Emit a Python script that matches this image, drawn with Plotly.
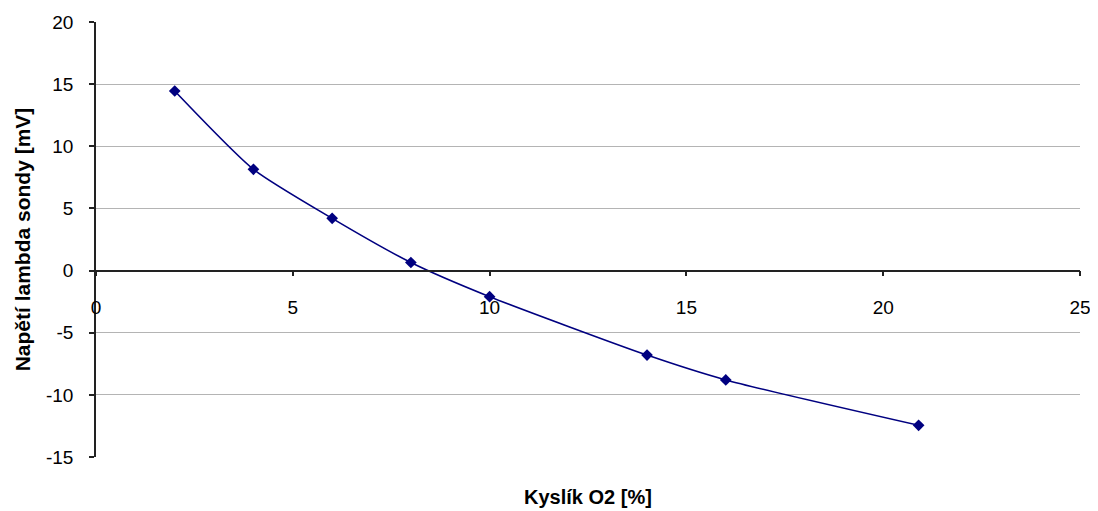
import plotly.graph_objects as go

oxygen_pct = [2, 4, 6, 8, 10, 14, 16, 20.9]
voltage_mv = [14.45, 8.15, 4.2, 0.65, -2.1, -6.8, -8.8, -12.45]

x_ticks = [0, 5, 10, 15, 20, 25]
y_ticks = [-15, -10, -5, 0, 5, 10, 15, 20]
y_tick_labels = ["-15", "-10", "-5", "0", "5", "10", "15", "20"]

x_title = "Kyslík O2 [%]"
y_title = "Napětí lambda sondy [mV]"

FONT = "Liberation Sans, Arial, sans-serif"
NAVY = "#000080"

fig = go.Figure()
fig.add_trace(go.Scatter(
    x=oxygen_pct, y=voltage_mv,
    mode="lines+markers",
    line=dict(color=NAVY, width=1.6, shape="spline", smoothing=0.6),
    marker=dict(symbol="diamond", size=9, color=NAVY),
    showlegend=False,
    hoverinfo="x+y",
))

fig.update_layout(
    width=1098, height=511,
    margin=dict(l=88, r=26, t=14, b=62),
    paper_bgcolor="white", plot_bgcolor="white",
    font=dict(family=FONT, size=19, color="black"),
    xaxis=dict(
        range=[0, 25], tickvals=x_ticks,
        anchor="free", position=15 / 35,
        showline=True, linecolor="#222222", linewidth=1.5,
        ticks="outside", ticklen=5, tickcolor="#222222", tickwidth=1.5,
        ticklabelstandoff=15,
        showgrid=False, zeroline=False, automargin=False,
        tickfont=dict(family=FONT, size=19, color="black"),
    ),
    yaxis=dict(
        range=[-15, 20], tickvals=y_ticks, ticktext=y_tick_labels,
        showline=True, linecolor="#222222", linewidth=1.5,
        ticks="outside", ticklen=5, tickcolor="#222222", tickwidth=1.5,
        ticklabelstandoff=12,
        showgrid=True, gridcolor="#b4b4b4", gridwidth=1,
        zeroline=False, automargin=False,
        tickfont=dict(family=FONT, size=19, color="black"),
        title=dict(text=y_title, font=dict(family=FONT, size=21, color="black", weight="bold"), standoff=10),
    ),
    annotations=[dict(
        text=x_title, xref="paper", yref="paper", x=0.5, y=0, yshift=-40,
        showarrow=False, xanchor="center", yanchor="middle",
        font=dict(family=FONT, size=20, color="black", weight="bold"),
    )],
)

fig.write_html("out.html")
